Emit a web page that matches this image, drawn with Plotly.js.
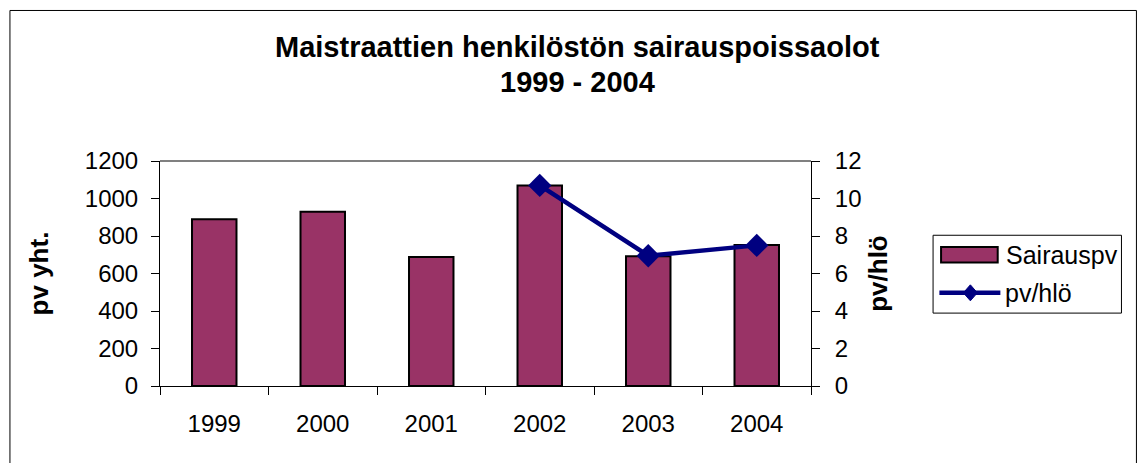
<!DOCTYPE html>
<html>
<head>
<meta charset="utf-8">
<script src="https://cdn.plot.ly/plotly-3.0.1.min.js"></script>
<style>html,body{margin:0;padding:0;background:#fff;} #chart{width:1143px;height:463px;}</style>
</head>
<body>
<div id="chart"></div>
<script>
const years = ['1999', '2000', '2001', '2002', '2003', '2004'];
const sairauspv = [889, 930, 688, 1070, 692, 752];
const pvHloYears = ['2002', '2003', '2004'];
const pvHlo = [10.7, 6.95, 7.5];
const seriesNames = ['Sairauspv', 'pv/hlö'];
const titleLine1 = 'Maistraattien henkilöstön sairauspoissaolot';
const titleLine2 = '1999 - 2004';

const FONT = 'Liberation Sans, Arial, sans-serif';
const BAR = '#993366', LINE = '#000080';

const traces = [
  {
    type: 'bar', name: seriesNames[0], x: years, y: sairauspv,
    marker: {color: BAR, line: {color: '#000', width: 2}},
    width: 0.41, yaxis: 'y', showlegend: false
  },
  {
    type: 'scatter', mode: 'lines+markers', name: seriesNames[1], x: pvHloYears, y: pvHlo,
    line: {color: LINE, width: 4.5},
    marker: {symbol: 'diamond', size: 18, color: LINE},
    yaxis: 'y2', showlegend: false
  }
];

// legend drawn in paper coordinates
const dx = 7 / 650.7, dy = 8 / 225.3, cx = 1.2448, cy = 0.4141;

const layout = {
  width: 1143, height: 463,
  margin: {l: 160, r: 332.3, t: 160.7, b: 77},
  paper_bgcolor: '#fff', plot_bgcolor: '#fff',
  font: {family: FONT, size: 24, color: '#000'},
  showlegend: false,
  xaxis: {
    type: 'category', tickson: 'boundaries', ticks: 'outside', ticklen: 8, tickcolor: '#000',
    showline: true, linecolor: '#000', linewidth: 1, mirror: false,
    showgrid: false, ticklabelstandoff: 16,
    tickfont: {family: FONT, size: 24, color: '#000'}
  },
  yaxis: {
    range: [0, 1200], dtick: 200, ticks: 'outside', ticklen: 8, tickcolor: '#000',
    showline: true, linecolor: '#000', showgrid: false, zeroline: false,
    ticklabelstandoff: 8,
    tickfont: {family: FONT, size: 24, color: '#000'},
    title: {text: 'pv yht.', font: {family: FONT, size: 26, color: '#000', weight: 'bold'}, standoff: 28}
  },
  yaxis2: {
    range: [0, 12], dtick: 2, overlaying: 'y', side: 'right', ticks: 'outside', ticklen: 8, tickcolor: '#000',
    showline: true, linecolor: '#000', showgrid: false, zeroline: false,
    ticklabelstandoff: 10,
    tickfont: {family: FONT, size: 24, color: '#000'},
    title: {text: 'pv/hlö', font: {family: FONT, size: 26, color: '#000', weight: 'bold'}, standoff: 8}
  },
  annotations: [
    {text: '<b>' + titleLine1 + '</b>', xref: 'paper', yref: 'paper', x: 0.642, y: 1.5047, xanchor: 'center', yanchor: 'middle', showarrow: false, font: {family: FONT, size: 29, color: '#000'}},
    {text: '<b>' + titleLine2 + '</b>', xref: 'paper', yref: 'paper', x: 0.642, y: 1.349, xanchor: 'center', yanchor: 'middle', showarrow: false, font: {family: FONT, size: 29, color: '#000'}},
    {text: seriesNames[0], xref: 'paper', yref: 'paper', x: 1.2971, y: 0.5837, xanchor: 'left', yanchor: 'middle', showarrow: false, font: {family: FONT, size: 25, color: '#000'}},
    {text: seriesNames[1], xref: 'paper', yref: 'paper', x: 1.2955, y: 0.4141, xanchor: 'left', yanchor: 'middle', showarrow: false, font: {family: FONT, size: 25, color: '#000'}}
  ],
  shapes: [
    {type: 'rect', xref: 'paper', yref: 'paper', x0: -0.2305, x1: 1.4999, y0: -0.346, y1: 1.669, line: {color: '#000', width: 1}, fillcolor: 'rgba(0,0,0,0)', layer: 'below'},
    {type: 'line', xref: 'paper', yref: 'paper', x0: 0, x1: 1, y0: 1, y1: 1, line: {color: '#808080', width: 2}},
    {type: 'rect', xref: 'paper', yref: 'paper', x0: 1.1875, x1: 1.4769, y0: 0.324, y1: 0.670, line: {color: '#000', width: 1}, fillcolor: '#fff'},
    {type: 'rect', xref: 'paper', yref: 'paper', x0: 1.1998, x1: 1.2868, y0: 0.549, y1: 0.6183, line: {color: '#000', width: 2}, fillcolor: BAR},
    {type: 'line', xref: 'paper', yref: 'paper', x0: 1.1972, x1: 1.2909, y0: cy, y1: cy, line: {color: LINE, width: 4.5}},
    {type: 'path', xref: 'paper', yref: 'paper',
     path: `M ${cx - dx} ${cy} L ${cx} ${cy + dy} L ${cx + dx} ${cy} L ${cx} ${cy - dy} Z`,
     line: {color: LINE, width: 1}, fillcolor: LINE}
  ]
};

Plotly.newPlot('chart', traces, layout, {displayModeBar: false, staticPlot: true});
</script>
</body>
</html>
